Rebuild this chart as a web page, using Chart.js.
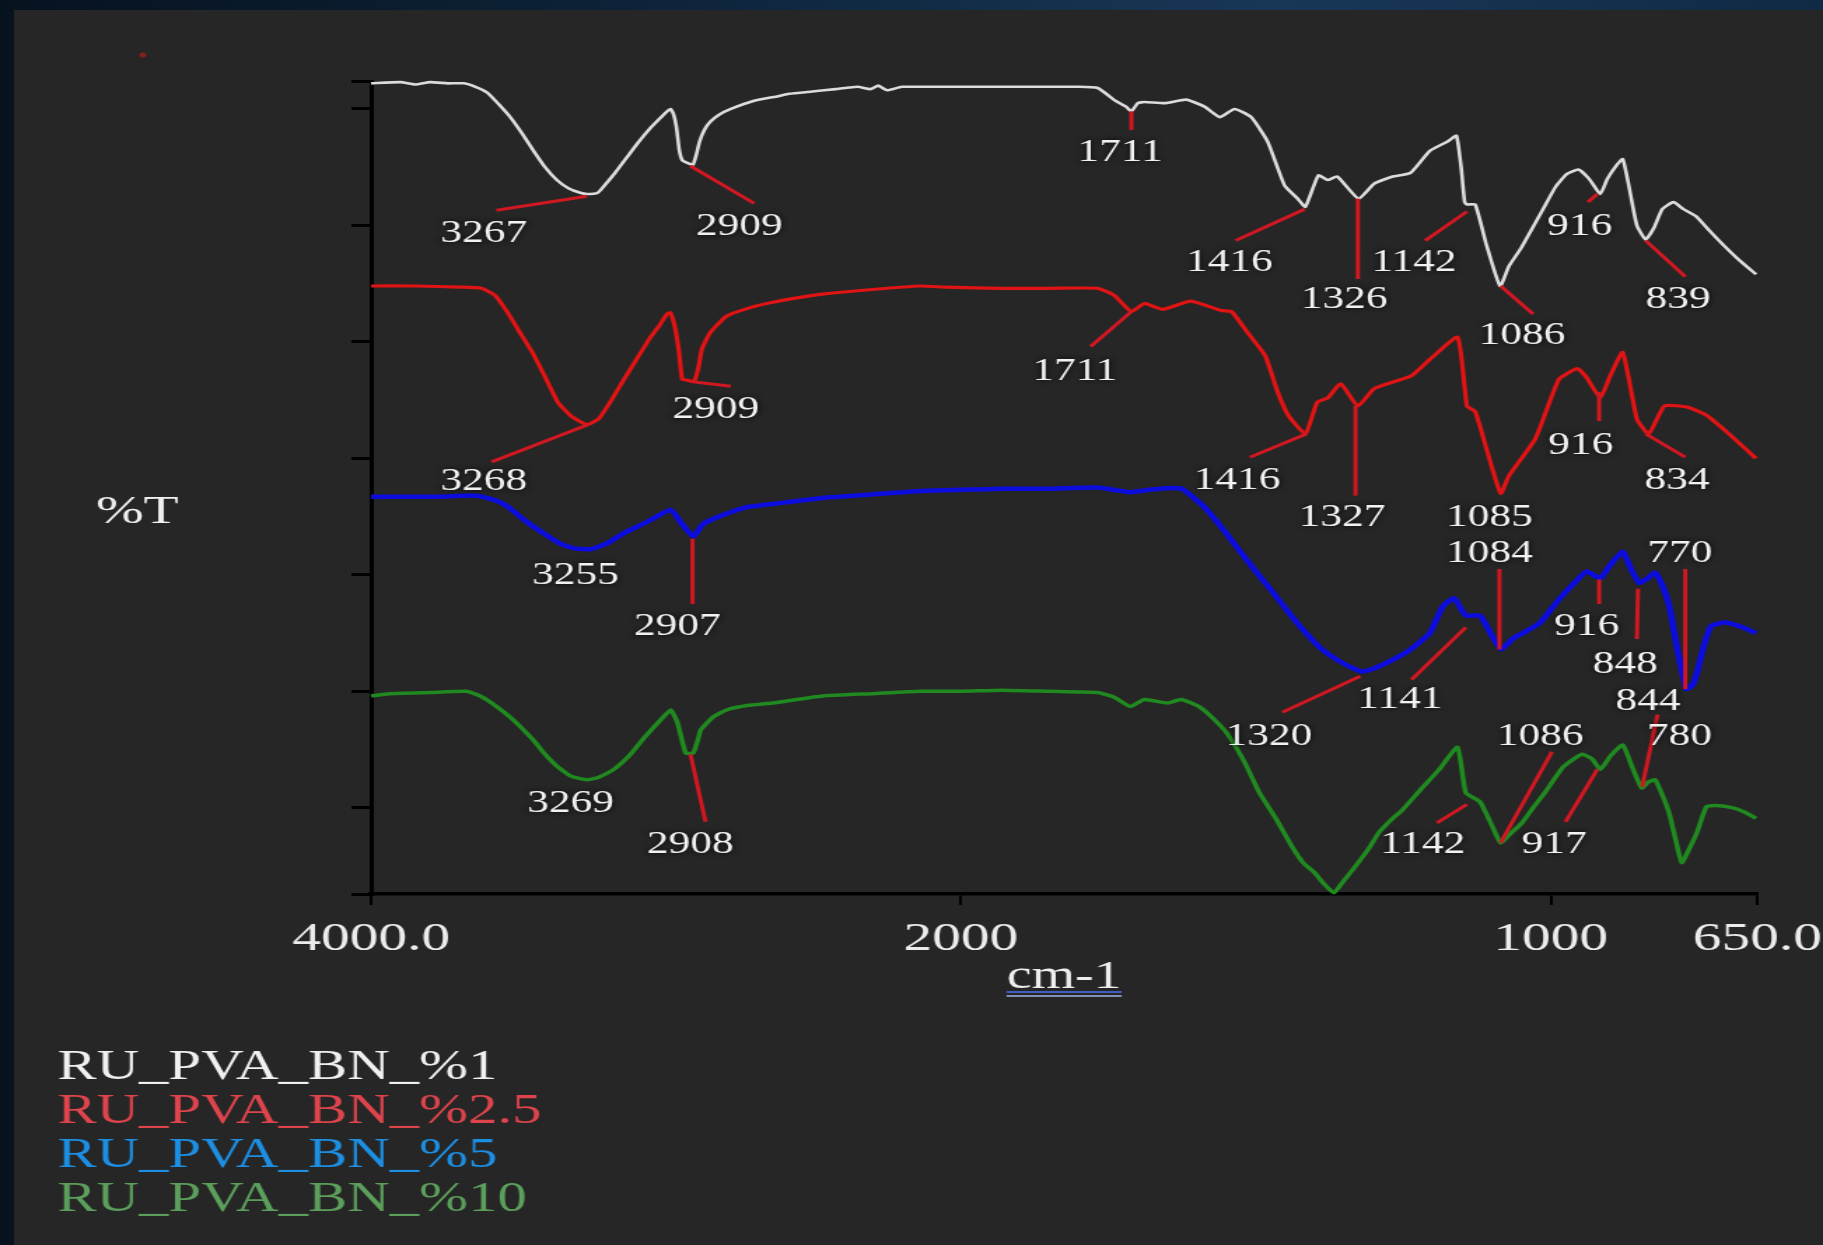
<!DOCTYPE html>
<html>
<head>
<meta charset="utf-8">
<script src="https://cdn.jsdelivr.net/npm/chart.js@4.4.1/dist/chart.umd.min.js"></script>
<style>
  html, body { margin: 0; padding: 0; }
  body {
    width: 1823px; height: 1245px; overflow: hidden;
    background: linear-gradient(90deg, #07121f 0%, #0d2339 35%, #183756 70%, #102a45 100%);
  }
  #spectrum { position: absolute; left: 0; top: 0; }
</style>
</head>
<body>
<!-- the source picture is stretched sideways, so the canvas is too (inline style so Chart.js keeps it) -->
<canvas id="spectrum" width="1302" height="1245" style="width:1823px;height:1245px"></canvas>
<script>
// FTIR spectra, stacked %T (1 unit = one y tick step)
const seriesNames = ['RU_PVA_BN_%1', 'RU_PVA_BN_%2.5', 'RU_PVA_BN_%5', 'RU_PVA_BN_%10'];

const pva1Wn = [4000, 3900, 3850, 3800, 3740, 3685, 3646, 3606, 3567, 3528, 3488, 3449, 3410, 3370, 3331, 3291, 3267, 3232, 3213, 3173, 3134, 3095, 3055, 3016, 2996, 2985, 2975, 2965, 2955, 2945, 2930, 2909, 2898, 2886, 2870, 2850, 2820, 2780, 2701, 2620, 2583, 2504, 2425, 2350, 2307, 2280, 2250, 2200, 2111, 2000, 1900, 1800, 1768, 1738, 1720, 1711, 1700, 1689, 1654, 1618, 1587, 1561, 1536, 1508, 1480, 1451, 1429, 1416, 1394, 1378, 1362, 1326, 1299, 1268, 1238, 1205, 1175, 1160, 1152, 1146, 1142, 1128, 1110, 1086, 1071, 1051, 1032, 1012, 992, 973, 953, 935, 916, 904, 888, 878, 868, 854, 839, 825, 811, 792, 775, 754, 730, 707, 680, 652];
const pva1T = [6.22, 6.23, 6.21, 6.23, 6.22, 6.22, 6.19, 6.14, 6.04, 5.93, 5.79, 5.64, 5.50, 5.39, 5.32, 5.28, 5.27, 5.28, 5.33, 5.45, 5.58, 5.71, 5.83, 5.93, 5.98, 6.00, 5.96, 5.85, 5.65, 5.56, 5.54, 5.52, 5.60, 5.72, 5.82, 5.89, 5.95, 6.00, 6.07, 6.11, 6.13, 6.15, 6.17, 6.19, 6.17, 6.20, 6.16, 6.19, 6.19, 6.19, 6.19, 6.19, 6.18, 6.07, 6.02, 5.98, 6.05, 6.06, 6.05, 6.08, 6.02, 5.93, 6.00, 5.93, 5.72, 5.34, 5.23, 5.16, 5.43, 5.39, 5.42, 5.23, 5.36, 5.42, 5.45, 5.64, 5.72, 5.77, 5.50, 5.20, 5.18, 5.18, 4.85, 4.48, 4.65, 4.80, 4.97, 5.15, 5.33, 5.44, 5.48, 5.40, 5.27, 5.40, 5.52, 5.57, 5.35, 5.00, 4.88, 4.98, 5.14, 5.20, 5.14, 5.08, 4.95, 4.83, 4.70, 4.58];

const pva25Wn = [4000, 3850, 3697, 3626, 3580, 3539, 3500, 3453, 3410, 3366, 3320, 3268, 3228, 3185, 3142, 3100, 3055, 3020, 2996, 2985, 2969, 2955, 2945, 2925, 2905, 2890, 2878, 2850, 2795, 2720, 2638, 2550, 2469, 2300, 2138, 2050, 1931, 1850, 1768, 1740, 1711, 1689, 1658, 1610, 1559, 1541, 1514, 1484, 1463, 1445, 1416, 1396, 1378, 1356, 1327, 1299, 1236, 1205, 1158, 1142, 1128, 1110, 1085, 1071, 1026, 986, 955, 940, 916, 900, 878, 854, 834, 807, 768, 736, 700, 652];
const pva25T = [4.48, 4.48, 4.47, 4.46, 4.40, 4.26, 4.10, 3.91, 3.70, 3.48, 3.36, 3.29, 3.34, 3.50, 3.68, 3.85, 4.03, 4.15, 4.24, 4.25, 4.12, 3.90, 3.68, 3.67, 3.66, 3.78, 3.94, 4.08, 4.22, 4.29, 4.34, 4.38, 4.41, 4.45, 4.48, 4.47, 4.46, 4.46, 4.46, 4.40, 4.26, 4.33, 4.28, 4.35, 4.27, 4.26, 4.08, 3.88, 3.57, 3.37, 3.21, 3.48, 3.52, 3.64, 3.45, 3.60, 3.71, 3.85, 4.04, 3.45, 3.40, 3.10, 2.70, 2.85, 3.17, 3.68, 3.77, 3.70, 3.52, 3.70, 3.91, 3.34, 3.21, 3.45, 3.44, 3.37, 3.22, 3.00];

const pva5Wn = [4000, 3800, 3642, 3580, 3539, 3480, 3417, 3360, 3315, 3255, 3200, 3142, 3060, 2984, 2950, 2907, 2880, 2866, 2800, 2729, 2600, 2469, 2300, 2138, 2000, 1931, 1850, 1768, 1713, 1665, 1626, 1589, 1560, 1534, 1500, 1471, 1440, 1415, 1390, 1362, 1340, 1320, 1298, 1276, 1250, 1230, 1205, 1183, 1164, 1144, 1120, 1100, 1084, 1065, 1040, 1018, 986, 960, 939, 916, 900, 878, 864, 850, 836, 823, 810, 799, 785, 770, 760, 752, 740, 728, 705, 675, 652];
const pva5T = [2.67, 2.67, 2.68, 2.64, 2.59, 2.47, 2.36, 2.27, 2.23, 2.22, 2.27, 2.36, 2.46, 2.56, 2.45, 2.33, 2.42, 2.45, 2.52, 2.58, 2.62, 2.66, 2.69, 2.72, 2.73, 2.74, 2.74, 2.75, 2.71, 2.74, 2.74, 2.59, 2.42, 2.25, 2.03, 1.85, 1.65, 1.50, 1.37, 1.27, 1.21, 1.17, 1.20, 1.25, 1.32, 1.39, 1.50, 1.73, 1.80, 1.65, 1.65, 1.48, 1.36, 1.45, 1.52, 1.59, 1.79, 1.93, 2.03, 1.97, 2.08, 2.20, 2.05, 1.93, 1.97, 2.02, 1.90, 1.73, 1.35, 1.02, 1.05, 1.16, 1.40, 1.56, 1.59, 1.55, 1.50];

const pva10Wn = [4000, 3937, 3800, 3677, 3630, 3591, 3520, 3453, 3410, 3366, 3320, 3269, 3230, 3177, 3120, 3071, 3020, 2984, 2961, 2933, 2908, 2890, 2882, 2840, 2795, 2720, 2638, 2469, 2300, 2138, 2000, 1931, 1850, 1768, 1740, 1713, 1689, 1650, 1626, 1597, 1575, 1549, 1520, 1494, 1465, 1439, 1420, 1400, 1385, 1368, 1350, 1331, 1310, 1291, 1270, 1252, 1220, 1189, 1158, 1144, 1120, 1100, 1085, 1068, 1049, 1030, 1010, 979, 947, 930, 916, 898, 878, 862, 846, 835, 823, 810, 799, 788, 778, 765, 752, 736, 720, 691, 670, 652];
const pva10T = [0.96, 0.98, 0.99, 1.00, 0.96, 0.90, 0.76, 0.59, 0.46, 0.35, 0.27, 0.24, 0.26, 0.33, 0.46, 0.61, 0.75, 0.84, 0.73, 0.47, 0.47, 0.60, 0.67, 0.78, 0.84, 0.88, 0.90, 0.96, 0.98, 1.00, 1.00, 1.01, 1.00, 0.99, 0.95, 0.87, 0.93, 0.90, 0.93, 0.87, 0.78, 0.64, 0.40, 0.13, -0.10, -0.33, -0.47, -0.56, -0.65, -0.73, -0.62, -0.50, -0.36, -0.21, -0.10, -0.02, 0.16, 0.33, 0.52, 0.13, 0.05, -0.15, -0.30, -0.22, -0.13, 0.00, 0.13, 0.35, 0.46, 0.42, 0.33, 0.45, 0.54, 0.35, 0.17, 0.22, 0.24, 0.10, -0.05, -0.28, -0.47, -0.35, -0.21, 0.01, 0.02, 0.00, -0.04, -0.09];

const xTickValues = [4000, 2000, 1000, 650];
const xTickLabels = ['4000.0', '2000', '1000', '650.0'];
const yTickValues = [-0.74, 0, 1, 2, 3, 4, 5, 6, 6.24];

// peak labels: text, label wn, label %T, then leader from (wn, %T) to (wn, %T)
const pva1Peaks = [
  ['3267', 3618, 4.93, 3575, 5.13, 3268, 5.25],
  ['2909', 2752, 4.99, 2917, 5.51, 2701, 5.19],
  ['1711', 1730, 5.62, 1711, 5.98, 1711, 5.82],
  ['1416', 1545, 4.68, 1534, 4.87, 1417, 5.14],
  ['1326', 1350, 4.36, 1327, 5.23, 1327, 4.54],
  ['1142', 1232, 4.68, 1213, 4.87, 1142, 5.12],
  ['1086', 1049, 4.05, 1085, 4.48, 1030, 4.24],
  ['916', 951, 4.99, 937, 5.20, 921, 5.27],
  ['839', 784, 4.36, 839, 4.87, 772, 4.56]
];
const pva25Peaks = [
  ['1711', 1807, 3.74, 1780, 3.96, 1711, 4.26],
  ['3268', 3618, 2.80, 3591, 2.97, 3264, 3.29],
  ['2909', 2831, 3.42, 2917, 3.66, 2780, 3.62],
  ['1416', 1532, 2.81, 1510, 3.01, 1414, 3.21],
  ['1327', 1354, 2.49, 1331, 3.45, 1331, 2.68],
  ['1085', 1104, 2.49],
  ['916', 949, 3.11, 918, 3.57, 918, 3.32],
  ['834', 786, 2.81, 839, 3.21, 772, 3.01]
];
const pva5Peaks = [
  ['3255', 3307, 1.99],
  ['2907', 2961, 1.55, 2910, 2.31, 2910, 1.75],
  ['1320', 1478, 0.61, 1455, 0.82, 1323, 1.13],
  ['1141', 1256, 0.93, 1236, 1.10, 1144, 1.55],
  ['1084', 1104, 2.18, 1087, 2.05, 1087, 1.36],
  ['916', 939, 1.55, 918, 1.96, 918, 1.75],
  ['848', 874, 1.23, 852, 1.88, 854, 1.45],
  ['770', 781, 2.18, 772, 2.05, 772, 1.02]
];
const pva10Peaks = [
  ['3269', 3323, 0.03],
  ['2908', 2917, -0.32, 2917, 0.46, 2866, -0.12],
  ['1142', 1217, -0.32, 1193, -0.13, 1142, 0.03],
  ['1086', 1018, 0.61, 1085, -0.30, 998, 0.48],
  ['917', 994, -0.32, 921, 0.33, 975, -0.12],
  ['844', 835, 0.91, 819, 0.80, 845, 0.18],
  ['780', 782, 0.61]
];

const lineColors = ['#dcdcdc', '#e01414', '#0c0cdc', '#208a20'];
const lineWidths = [2.6, 3.2, 4.5, 3.5];
const legendColors = ['#f0f0f0', '#dd444c', '#1d8fe2', '#5c9f5c'];
const serif = '"Liberation Serif", "Times New Roman", serif';

// x axis: 4000-2000 at normal scale, 2000-650 expanded 2x (usual FTIR layout)
class FtirScale extends Chart.LinearScale {
  static id = 'ftir';
  static defaults = {};
  buildTicks() {
    return xTickValues.map(v => ({ value: v }));
  }
  _span() {
    return (this.max - 2000) + (2000 - this.min) * 2;
  }
  getPixelForValue(v) {
    const d = v >= 2000 ? this.max - v : (this.max - 2000) + (2000 - v) * 2;
    return this.getPixelForDecimal(d / this._span());
  }
  getValueForPixel(p) {
    const d = this.getDecimalForPixel(p) * this._span();
    const hi = this.max - 2000;
    return d <= hi ? this.max - d : 2000 - (d - hi) / 2;
  }
}
Chart.register(FtirScale);

function points(wn, t) {
  return wn.map((w, i) => ({ x: w, y: t[i] }));
}

const panelPlugin = {
  id: 'panel',
  beforeDraw(chart) {
    const { ctx, width, height } = chart;
    ctx.save();
    ctx.fillStyle = '#262626';
    ctx.fillRect(10, 10, width - 10, height - 10);
    ctx.fillStyle = 'rgba(150, 30, 30, 0.85)';
    ctx.beginPath();
    ctx.arc(102, 55, 2.5, 0, Math.PI * 2);
    ctx.fill();
    ctx.restore();
  }
};

const peakPlugin = {
  id: 'peaks',
  afterDatasetsDraw(chart) {
    const { ctx, scales: { x, y } } = chart;
    const all = [pva1Peaks, pva25Peaks, pva5Peaks, pva10Peaks];
    ctx.save();
    ctx.strokeStyle = '#cf1822';
    ctx.lineWidth = 3;
    all.forEach(list => list.forEach(p => {
      if (p.length < 7) return;
      ctx.beginPath();
      ctx.moveTo(x.getPixelForValue(p[3]), y.getPixelForValue(p[4]));
      ctx.lineTo(x.getPixelForValue(p[5]), y.getPixelForValue(p[6]));
      ctx.stroke();
    }));
    ctx.font = '31px ' + serif;
    ctx.textAlign = 'center';
    ctx.textBaseline = 'middle';
    ctx.fillStyle = '#f2f2f2';
    ctx.shadowColor = 'rgba(0, 0, 0, 0.9)';
    ctx.shadowBlur = 5;
    all.forEach(list => list.forEach(p => {
      ctx.fillText(p[0], x.getPixelForValue(p[1]), y.getPixelForValue(p[2]));
    }));
    ctx.restore();
  },
  afterDraw(chart) {
    const { ctx, scales: { x } } = chart;
    ctx.save();
    // y title, written flat like the original
    ctx.font = '41px ' + serif;
    ctx.fillStyle = '#f0f0f0';
    ctx.textAlign = 'center';
    ctx.textBaseline = 'middle';
    ctx.fillText('%T', 98, 512);

    // double underline under cm-1
    ctx.font = '40px ' + serif;
    const w = ctx.measureText('cm-1').width;
    const mid = (x.left + x.right) / 2;
    ctx.lineWidth = 2;
    ctx.strokeStyle = '#3f5fc0';
    ctx.beginPath(); ctx.moveTo(mid - w / 2, 992); ctx.lineTo(mid + w / 2, 992); ctx.stroke();
    ctx.strokeStyle = '#9fb4ea';
    ctx.lineWidth = 1.5;
    ctx.beginPath(); ctx.moveTo(mid - w / 2, 996); ctx.lineTo(mid + w / 2, 996); ctx.stroke();

    // legend as coloured text lines
    ctx.font = '42px ' + serif;
    ctx.textAlign = 'left';
    ctx.textBaseline = 'alphabetic';
    chart.data.datasets.forEach((ds, i) => {
      ctx.fillStyle = legendColors[i];
      ctx.fillText(ds.label, 41, 1079 + i * 44);
    });
    ctx.restore();
  }
};

const series = [[pva1Wn, pva1T], [pva25Wn, pva25T], [pva5Wn, pva5T], [pva10Wn, pva10T]];

new Chart(document.getElementById('spectrum'), {
  type: 'line',
  data: {
    datasets: series.map((s, i) => ({
      label: seriesNames[i],
      data: points(s[0], s[1]),
      borderColor: lineColors[i],
      borderWidth: lineWidths[i],
      pointRadius: 0,
      tension: 0.15,
      fill: false,
      clip: false
    }))
  },
  options: {
    responsive: false,
    animation: false,
    events: [],
    layout: { padding: { left: 0, right: 47, top: 81, bottom: 241 } },
    plugins: { legend: { display: false }, tooltip: { enabled: false } },
    scales: {
      x: {
        type: 'ftir',
        min: 650,
        max: 4000,
        position: 'bottom',
        border: { color: '#000', width: 3.5 },
        grid: { drawOnChartArea: false, drawTicks: true, tickLength: 11, color: '#000', lineWidth: 2 },
        ticks: {
          autoSkip: false,
          maxRotation: 0,
          padding: 10,
          color: '#ececec',
          font: { family: serif, size: 41 },
          callback: (v, i) => xTickLabels[i]
        },
        title: {
          display: true,
          text: 'cm-1',
          color: '#eeeeee',
          font: { family: serif, size: 40 },
          padding: { top: 0, bottom: 3 }
        },
        afterFit: s => { s.height = 110; s.paddingLeft = 0; s.paddingRight = 0; }
      },
      y: {
        type: 'linear',
        min: -0.74,
        max: 6.24,
        border: { color: '#000', width: 3 },
        grid: { drawOnChartArea: false, drawTicks: true, tickLength: 14, color: '#000', lineWidth: 3 },
        ticks: { display: false },
        afterBuildTicks: s => { s.ticks = yTickValues.map(v => ({ value: v })); },
        afterFit: s => { s.width = 265; s.paddingTop = 0; s.paddingBottom = 0; }
      }
    }
  },
  plugins: [panelPlugin, peakPlugin]
});
</script>
</body>
</html>
